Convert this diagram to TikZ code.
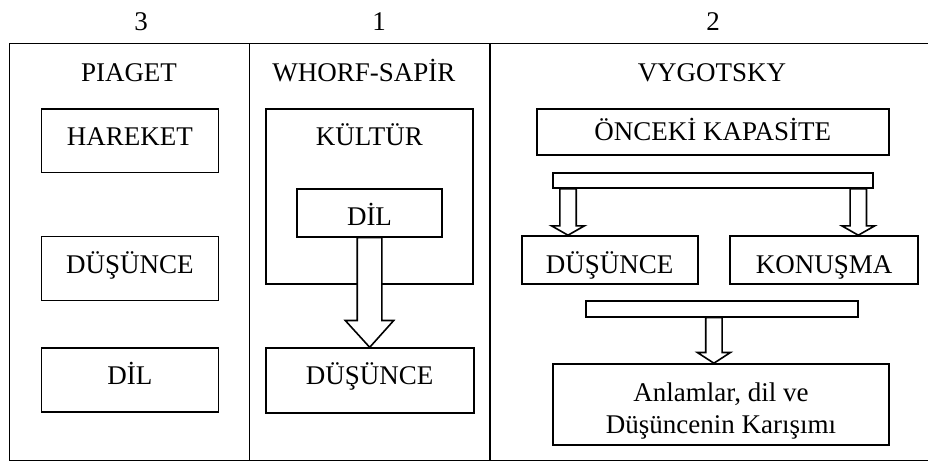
\documentclass[tikz,border=0pt]{standalone}
\usepackage{fontspec}
\setmainfont{Liberation Serif}
\usetikzlibrary{positioning,calc}

\begin{document}
\begin{tikzpicture}[x=0.5pt,y=-0.5pt,line width=0.8pt,
  kutu/.style={draw,rectangle,inner sep=2pt,align=center,font=\fontsize{13.5}{15}\selectfont},
  tek/.style={kutu,text height=9pt,text depth=4.5pt},
  tekalt/.style={kutu,text height=13pt,text depth=0pt},
  yazi/.style={font=\fontsize{13.5}{15}\selectfont,text height=9pt,text depth=4.5pt},
  serit/.style={draw,rectangle,inner sep=0pt},
  okbos/.style={draw,fill=white,line join=miter}]

\useasboundingbox (0,0) rectangle (928,463);

\coordinate (ust) at (928,43.5);

\coordinate (alt) at (928,460.5);

\draw (ust) -- (9.3,43.5) -- (9.3,460.5) -- (alt);

\draw (249.5,43.5) -- (249.5,460.5);

\draw (490,43.5) -- (490,460.5);

\node[yazi] (n3) at (141,26) {3};
\node[yazi] (n1) at (379,26) {1};
\node[yazi] (n2) at (713,26) {2};

\node[yazi] (piaget) at (129,77) {PIAGET};
\node[yazi] (whorf) at (364,77) {WHORF-SAPİR};
\node[yazi] (vygotsky) at (712,77) {VYGOTSKY};

\node[tek,minimum width=88.5pt,minimum height=31.8pt] (hareket) at (129.8,140.8) {HAREKET};

\node[tek,minimum width=88.5pt,minimum height=32pt,below=31.2pt of hareket] (pdus) {DÜŞÜNCE};

\node[tek,minimum width=88.5pt,minimum height=32pt,below=23pt of pdus] (pdil) {DİL};

\node[serit,minimum width=103.6pt,minimum height=87.5pt] (kultur) at (369.4,196.5) {};

\node[yazi] (kulturyazi) at (369.4,141) {KÜLTÜR};

\node[tekalt,minimum width=72.5pt,minimum height=24pt] (wdil) at (369.5,212.7) {DİL};

\node[tek,minimum width=104pt,minimum height=32.3pt] (wdus) at (369.7,380.4) {DÜŞÜNCE};

\draw[okbos] ($(wdil.south)+(-12.3,0)$) -- ($(wdil.south)+(-12.3,83)$) -- ($(wdil.south)+(-24.2,83)$) -- (wdus.north) -- ($(wdil.south)+(24.2,83)$) -- ($(wdil.south)+(12.3,83)$) -- ($(wdil.south)+(12.3,0)$) -- cycle;

\node[kutu,text height=10pt,text depth=2pt,minimum width=176pt,minimum height=23pt] (onceki) at (712.8,132) {ÖNCEKİ KAPASİTE};

\node[serit,minimum width=160pt,minimum height=7.5pt] (bar1) at (713,180.5) {};

\node[tekalt,minimum width=88pt,minimum height=24pt] (vdus) at (609.7,260) {DÜŞÜNCE};

\node[tekalt,minimum width=94pt,minimum height=24pt,right=15.4pt of vdus] (konusma) {KONUŞMA};

\node[serit,minimum width=136pt,minimum height=8pt] (bar2) at (721.9,308.7) {};

\node[serit,minimum width=168pt,minimum height=40.5pt] (karisim) at (721,404.5) {};

\node[align=center,font=\fontsize{13.5}{15}\selectfont] (karisimyazi) at ($(karisim.center)+(0,6)$) {Anlamlar, dil ve\\[1pt]Düşüncenin Karışımı};

\coordinate (o1) at ($(bar1.south west)+(15.8,0)$);
\coordinate (o2) at ($(bar1.south east)+(-15.5,0)$);
\coordinate (o3) at ($(bar2.south)+(-8,0)$);

\foreach \o/\h/\s in {o1/vdus/37,o2/konusma/37,o3/karisim/35}
  \draw[okbos] ($(\o)+(-8.2,0)$) -- ($(\o)+(-8.2,\s)$) -- ($(\o)+(-16.5,\s)$) -- (\o |- \h.north) -- ($(\o)+(16.5,\s)$) -- ($(\o)+(8.2,\s)$) -- ($(\o)+(8.2,0)$) -- cycle;

\end{tikzpicture}
\end{document}
